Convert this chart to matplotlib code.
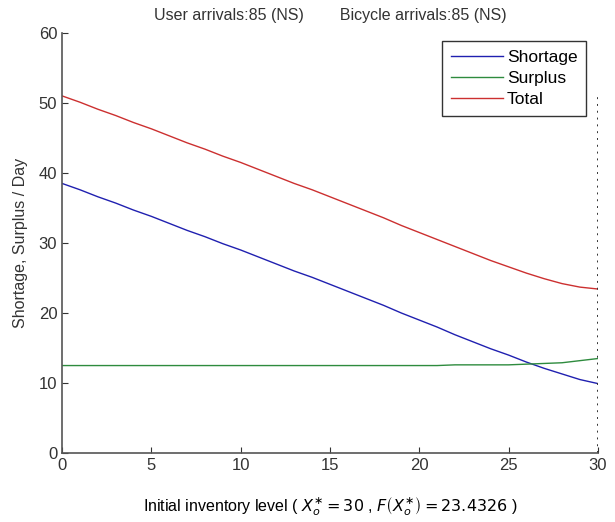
import matplotlib
matplotlib.use('Agg')
import matplotlib.pyplot as plt

# initial inventory level 0..30
inventory = list(range(31))
total = [51.0, 50.1, 49.1, 48.2, 47.2, 46.3, 45.3, 44.3, 43.4, 42.4, 41.5,
         40.5, 39.5, 38.5, 37.6, 36.6, 35.6, 34.6, 33.6, 32.5, 31.5,
         30.5, 29.5, 28.5, 27.5, 26.6, 25.7, 24.9, 24.2, 23.7, 23.43]
shortage = [38.5, 37.6, 36.6, 35.7, 34.7, 33.8, 32.8, 31.8, 30.9, 29.9, 29.0,
            28.0, 27.0, 26.0, 25.1, 24.1, 23.1, 22.1, 21.1, 20.0, 19.0,
            18.0, 16.9, 15.9, 14.9, 14.0, 13.0, 12.1, 11.3, 10.5, 9.93]
surplus = [12.5] * 22 + [12.6, 12.6, 12.6, 12.6, 12.7, 12.8, 12.9, 13.2, 13.5]
x_opt = 30

plt.rcParams['font.family'] = ['Liberation Sans', 'DejaVu Sans']

fig = plt.figure(figsize=(6.15, 5.22), dpi=100)
ax = fig.add_axes([0.101, 0.132, 0.871, 0.805])

ax.plot(inventory, shortage, color='#2020b0', lw=1, label='Shortage')
ax.plot(inventory, surplus, color='#2e8b3e', lw=1, label='Surplus')
ax.plot(inventory, total, color='#cc3030', lw=1, label='Total')
ax.vlines(x_opt, 0, 51, colors='#333333', linestyles=(0, (1, 2.5)), lw=1.4)

ax.set_xlim(0, 30)
ax.set_ylim(0, 60)
ax.set_xticks(range(0, 31, 5))
ax.set_yticks(range(0, 61, 10))
ax.tick_params(direction='in', length=4, labelsize=12, colors='#333333')
for s in ['top', 'right']:
    ax.spines[s].set_visible(False)
for s in ['left', 'bottom']:
    ax.spines[s].set_color('#555555')
    ax.spines[s].set_linewidth(1.2)

ax.set_ylabel('Shortage, Surplus / Day', fontsize=11.5, color='#333333', labelpad=8)
ax.set_xlabel(r'Initial inventory level ( $X_o^{\ast}=30$ , $F\left(X_o^{\ast}\right)=23.4326$ )',
              fontsize=11.5, labelpad=16)
ax.set_title('User arrivals:85 (NS)        Bicycle arrivals:85 (NS)',
             fontsize=11.5, color='#333333', pad=9)

leg = ax.legend(loc='upper right', bbox_to_anchor=(0.978, 0.981), fontsize=12.5,
                fancybox=False, framealpha=1, borderpad=0.5, handlelength=3.0,
                handletextpad=0.2, labelspacing=0.35, borderaxespad=0)
leg.get_frame().set_edgecolor('#333333')

fig.savefig('out.png', dpi=100)
